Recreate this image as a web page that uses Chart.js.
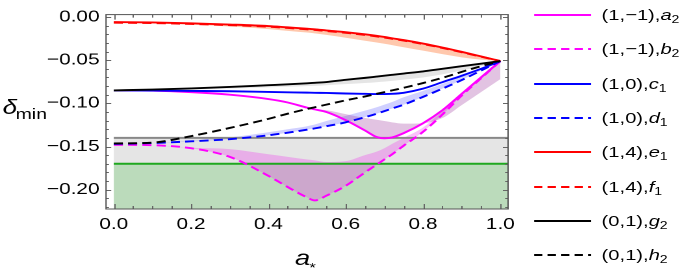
<!DOCTYPE html>
<html>
<head>
<meta charset="utf-8">
<script src="https://cdn.jsdelivr.net/npm/chart.js@4.4.0/dist/chart.umd.min.js"></script>
<style>
  html, body { margin: 0; padding: 0; background: #fff; }
  #wrap { position: relative; width: 531px; height: 276px; transform: scaleX(1.2994); transform-origin: 0 0;
          font-family: "Liberation Sans", Arial, sans-serif; }
  #chart { position: absolute; left: 0; top: 0; }
  .row { position: absolute; left: 411px; height: 20px; display: flex; align-items: center; white-space: nowrap; font-size: 15.5px; color: #000; }
  .row svg { margin-right: 8px; }
  .row sub { font-size: 70%; vertical-align: -0.3em; line-height: 0; }
</style>
</head>
<body>
<div id="wrap">
  <canvas id="chart" width="531" height="276" style="width:531px;height:276px"></canvas>
  <div id="legend"></div>
</div>
<script>
// shared x grid (a*)
const xs = [0, 0.1, 0.2, 0.3, 0.4, 0.45, 0.5, 0.52, 0.55, 0.6, 0.65, 0.68, 0.7, 0.72, 0.75, 0.8, 0.85, 0.9, 0.95, 1.0];

// curves
const a2 = [-0.085, -0.0853, -0.087, -0.090, -0.095, -0.099, -0.105, -0.107, -0.110, -0.1195, -0.1315, -0.139, -0.1405, -0.1395, -0.1345, -0.123, -0.108, -0.089, -0.070, -0.051];
const b2 = [-0.148, -0.1485, -0.152, -0.162, -0.184, -0.197, -0.209, -0.2125, -0.207, -0.1955, -0.180, -0.171, -0.165, -0.159, -0.149, -0.133, -0.113, -0.091, -0.071, -0.051];
const c1 = [-0.085, -0.0852, -0.0856, -0.086, -0.0868, -0.0872, -0.0876, -0.0878, -0.088, -0.0886, -0.089, -0.0892, -0.0892, -0.089, -0.0878, -0.083, -0.0755, -0.068, -0.060, -0.051];
const d1 = [-0.147, -0.146, -0.144, -0.1415, -0.137, -0.134, -0.1305, -0.129, -0.1265, -0.122, -0.116, -0.112, -0.109, -0.106, -0.1015, -0.0925, -0.083, -0.073, -0.062, -0.051];
const e1 = [-0.0058, -0.0063, -0.0073, -0.0087, -0.0105, -0.012, -0.0135, -0.0142, -0.0155, -0.0176, -0.0201, -0.0218, -0.0231, -0.0246, -0.0267, -0.0307, -0.0353, -0.0403, -0.0456, -0.051];
const f1 = [-0.0066, -0.007, -0.008, -0.0094, -0.0112, -0.0127, -0.0142, -0.0149, -0.0162, -0.0183, -0.0208, -0.0225, -0.0238, -0.0252, -0.0273, -0.0313, -0.0358, -0.0408, -0.046, -0.051];
const g2 = [-0.085, -0.084, -0.0827, -0.081, -0.079, -0.078, -0.0768, -0.0762, -0.0753, -0.0728, -0.0705, -0.069, -0.068, -0.067, -0.0655, -0.063, -0.060, -0.057, -0.054, -0.051];
const h2 = [-0.1465, -0.1455, -0.138, -0.1285, -0.118, -0.112, -0.1065, -0.1045, -0.1015, -0.0965, -0.092, -0.089, -0.087, -0.085, -0.082, -0.0765, -0.0705, -0.0635, -0.057, -0.051];

// shaded bands (other edge of each band, the curve is the first edge)
const aBand = [null, null, null, null, null, null, null, -0.107, -0.108, -0.1125, -0.117, -0.119, -0.1205, -0.122, -0.1235, -0.123, -0.117, -0.102, -0.087, -0.072];
const bBand = [-0.148, -0.1485, -0.1515, -0.153, -0.159, -0.162, -0.165, -0.166, -0.168, -0.167, -0.160, -0.156, -0.152, -0.147, -0.140, -0.128, -0.109, -0.088, -0.069, -0.051];
const dBand = [-0.147, -0.146, -0.1435, -0.1395, -0.1335, -0.130, -0.1265, -0.1245, -0.1205, -0.1145, -0.1085, -0.1045, -0.1015, -0.0985, -0.093, -0.0855, -0.0775, -0.069, -0.060, -0.051];
const eBand = [-0.0065, -0.0073, -0.009, -0.011, -0.014, -0.016, -0.018, -0.019, -0.0207, -0.024, -0.0275, -0.0295, -0.031, -0.0325, -0.035, -0.039, -0.043, -0.0467, -0.0493, -0.051];
const gBand = [-0.085, -0.0845, -0.0838, -0.0828, -0.0815, -0.0808, -0.080, -0.0797, -0.079, -0.0778, -0.0765, -0.0755, -0.0748, -0.074, -0.0725, -0.070, -0.0665, -0.062, -0.057, -0.051];

// horizontal bounds
const regionX = [0, 1.02];
const grayLevel = [-0.14, -0.14];
const greenLevel = [-0.17, -0.17];

// ticks
const xTicks = [0, 0.2, 0.4, 0.6, 0.8, 1.0];
const yTicks = [0, -0.05, -0.1, -0.15, -0.2];

// legend text
const legendPairs = ['(1,\u22121)', '(1,\u22121)', '(1,0)', '(1,0)', '(1,4)', '(1,4)', '(0,1)', '(0,1)'];
const legendLetters = ['a', 'b', 'c', 'd', 'e', 'f', 'g', 'h'];
const legendSubs = ['2', '2', '1', '1', '1', '1', '2', '2'];

const MAG = '#ff00ff', BLUE = '#0000ff', RED = '#ff0000', BLACK = '#000000';
const DASH = [7, 4];

function pts(ys, xv) {
    xv = xv || xs;
    return xv.map((x, i) => ({ x: x, y: ys[i] }));
}

function curve(ys, color, dashed, order) {
    return {
        data: pts(ys), borderColor: color, borderWidth: 1.9, borderDash: dashed ? DASH : [],
        pointRadius: 0, fill: false, cubicInterpolationMode: 'monotone', order: order
    };
}

function band(ys, target, color) {
    return {
        data: pts(ys), borderColor: 'rgba(0,0,0,0)', borderWidth: 0, pointRadius: 0,
        fill: target, backgroundColor: color, cubicInterpolationMode: 'monotone', order: 10
    };
}

const curveStyles = [
    [MAG, false], [MAG, true], [BLUE, false], [BLUE, true],
    [RED, false], [RED, true], [BLACK, false], [BLACK, true]
];

const datasets = [
    curve(a2, MAG, false, 4),     // 0
    curve(b2, MAG, true, 5),      // 1
    curve(c1, BLUE, false, 2),    // 2
    curve(d1, BLUE, true, 3),     // 3
    curve(e1, RED, false, 6),     // 4
    curve(f1, RED, true, 7),      // 5
    curve(g2, BLACK, false, 0),   // 6
    curve(h2, BLACK, true, 1),    // 7
    band(aBand, 0, 'rgba(150,40,150,0.28)'),
    band(bBand, 1, 'rgba(240,60,240,0.32)'),
    band(dBand, 3, 'rgba(40,40,255,0.22)'),
    band(eBand, 4, 'rgba(255,110,40,0.38)'),
    band(gBand, 6, 'rgba(0,0,0,0.10)'),
    { // 13 gray level, shaded down to green level
        data: pts(grayLevel, regionX), borderColor: '#888888', borderWidth: 2, pointRadius: 0,
        fill: 14, backgroundColor: 'rgb(229,229,229)', order: 20
    },
    { // 14 green level, shaded to the bottom
        data: pts(greenLevel, regionX), borderColor: '#1fa81f', borderWidth: 2, pointRadius: 0,
        fill: 'start', backgroundColor: 'rgb(187,219,187)', order: 21
    }
];

const fmtMinus = (v, d) => (v < 0 ? '\u2212' : '') + Math.abs(v).toFixed(d);

const framePlugin = {
    id: 'frame',
    afterDatasetsDraw(chart) {
        const { ctx, chartArea: a, scales: { x, y } } = chart;
        ctx.save();
        ctx.strokeStyle = '#666';
        ctx.lineWidth = 1;
        ctx.beginPath();
        for (let i = 0; i <= 20; i++) {
            const px = Math.round(x.getPixelForValue(i * 0.05)) + 0.5;
            const len = i % 4 === 0 ? 5 : 3;
            ctx.moveTo(px, a.bottom); ctx.lineTo(px, a.bottom - len);
            ctx.moveTo(px, a.top); ctx.lineTo(px, a.top + len);
        }
        for (let i = 0; i <= 22; i++) {
            const py = Math.round(y.getPixelForValue(-i * 0.01)) + 0.5;
            const len = i % 5 === 0 ? 4 : 2.3;
            ctx.moveTo(a.left, py); ctx.lineTo(a.left + len, py);
            ctx.moveTo(a.right, py); ctx.lineTo(a.right - len, py);
        }
        ctx.stroke();
        ctx.strokeStyle = '#555';
        ctx.strokeRect(a.left, a.top, a.right - a.left, a.bottom - a.top);
        ctx.restore();
    },
    afterDraw(chart) {
        const { ctx } = chart;
        ctx.save();
        ctx.fillStyle = '#000';
        ctx.textBaseline = 'alphabetic';
        ctx.font = 'italic 20px "Liberation Sans"';
        ctx.fillText('\u03b4', 2, 114);
        ctx.font = '15px "Liberation Sans"';
        ctx.fillText('min', 12, 119);
        ctx.font = 'italic 21px "Liberation Sans"';
        ctx.fillText('a', 227, 265);
        ctx.font = '13px "Liberation Sans"';
        ctx.fillText('*', 238, 272);
        ctx.restore();
    }
};

const chart = new Chart(document.getElementById('chart').getContext('2d'), {
    type: 'line',
    data: { datasets: datasets },
    options: {
        responsive: false,
        animation: false,
        devicePixelRatio: 2,
        layout: { padding: { top: 9, right: 140, left: 0, bottom: 0 } },
        plugins: {
            legend: { display: false },
            tooltip: { enabled: false },
            filler: { drawTime: 'beforeDatasetsDraw' }
        },
        scales: {
            x: {
                type: 'linear', min: -0.02, max: 1.02,
                grid: { display: false, drawTicks: false }, border: { display: false },
                afterBuildTicks: s => { s.ticks = xTicks.map(v => ({ value: v })); },
                afterFit: s => { s.height = 67; },
                ticks: {
                    padding: 6, color: '#000', maxRotation: 0,
                    font: { family: '"Liberation Sans"', size: 16 },
                    callback: v => fmtMinus(v, 1)
                }
            },
            y: {
                type: 'linear', min: -0.2224, max: 0.0028,
                grid: { display: false, drawTicks: false }, border: { display: false },
                afterBuildTicks: s => { s.ticks = yTicks.map(v => ({ value: v })); },
                afterFit: s => { s.width = 81.6; },
                ticks: {
                    padding: 5, color: '#000',
                    font: { family: '"Liberation Sans"', size: 16 },
                    callback: v => fmtMinus(v, 2)
                }
            }
        }
    },
    plugins: [framePlugin]
});

// legend
const legendEl = document.getElementById('legend');
legendPairs.forEach((pair, i) => {
    const [color, dashed] = curveStyles[i];
    const row = document.createElement('div');
    row.className = 'row';
    row.style.top = (5 + 34.3 * i) + 'px';
    row.innerHTML =
        '<svg width="44" height="4"><line x1="0" y1="2" x2="44" y2="2" stroke="' + color +
        '" stroke-width="2"' + (dashed ? ' stroke-dasharray="6.4 4"' : '') + '/></svg>' +
        '<span>' + pair + ',<i>' + legendLetters[i] + '</i><sub>' + legendSubs[i] + '</sub></span>';
    legendEl.appendChild(row);
});
</script>
</body>
</html>
